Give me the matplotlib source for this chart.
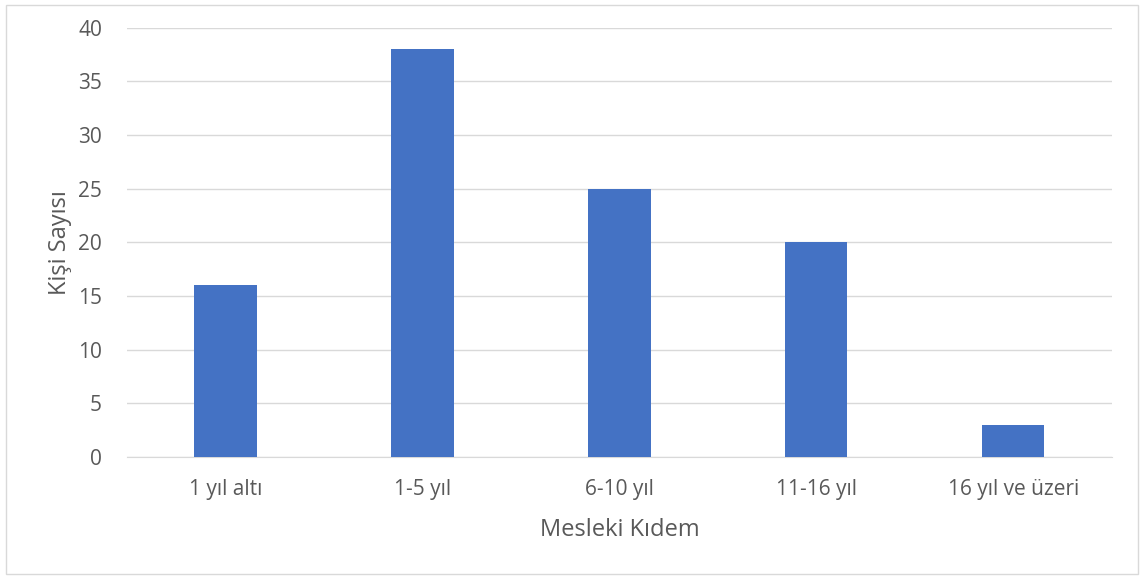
import matplotlib.pyplot as plt
from matplotlib.patches import Rectangle

categories = ['1 yıl altı', '1-5 yıl', '6-10 yıl', '11-16 yıl', '16 yıl ve üzeri']
counts = [16, 38, 25, 20, 3]
y_ticks = [0, 5, 10, 15, 20, 25, 30, 35, 40]

plt.rcParams['font.family'] = ['Open Sans', 'DejaVu Sans']
text_color = '#595959'

fig = plt.figure(figsize=(11.44, 5.79), dpi=100)
ax = fig.add_axes([0.111, 0.211, 0.861, 0.741])

x = range(len(categories))
ax.bar(x, counts, width=0.315, color='#4472C4', zorder=3)

ax.set_xlim(-0.5, len(categories) - 0.5)
ax.set_ylim(0, 40)
ax.set_yticks(y_ticks)
ax.set_xticks(list(x))
ax.set_xticklabels(categories)
ax.yaxis.grid(True, color='#D9D9D9', linewidth=1, zorder=0)

for side in ['top', 'right', 'left']:
    ax.spines[side].set_visible(False)
ax.spines['bottom'].set_color('#D9D9D9')
ax.tick_params(axis='both', length=0, labelsize=15, colors=text_color)
ax.tick_params(axis='y', pad=18)
ax.tick_params(axis='x', pad=16)

ax.set_xlabel('Mesleki Kıdem', fontsize=17, color=text_color, labelpad=13)
ax.set_ylabel('Kişi Sayısı', fontsize=17, color=text_color, labelpad=4)

# outer chart border
fig.patches.append(Rectangle((0.005, 0.008), 0.99, 0.984, transform=fig.transFigure,
                             fill=False, edgecolor='#D9D9D9', linewidth=1))

fig.savefig('out.png', dpi=100)
